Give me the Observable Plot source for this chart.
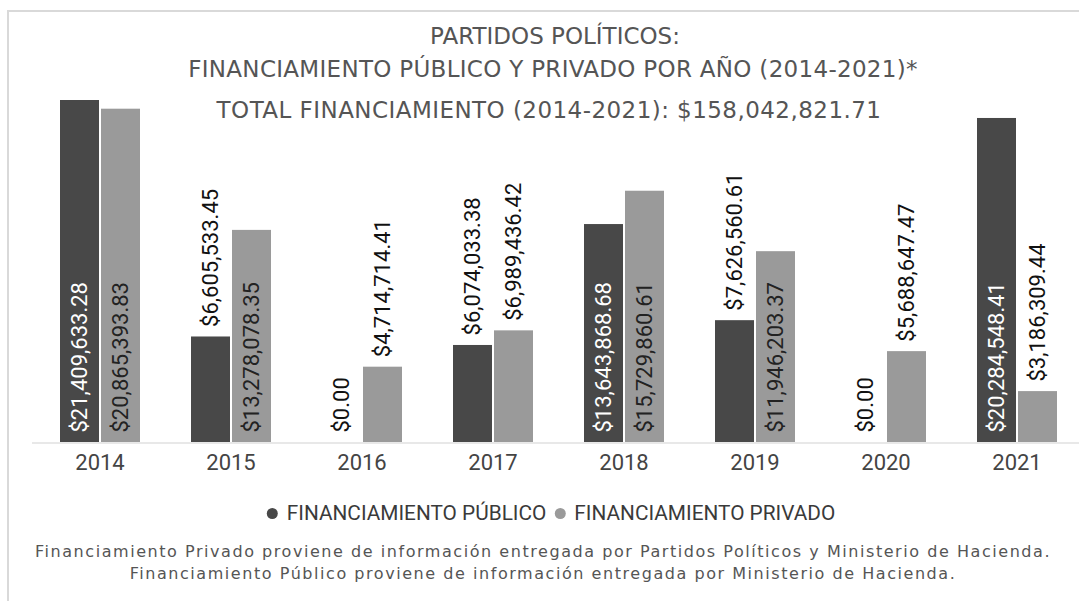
<!DOCTYPE html>
<html>
<head>
<meta charset="utf-8">
<script src="https://cdn.jsdelivr.net/npm/d3@7"></script>
<script src="https://cdn.jsdelivr.net/npm/@observablehq/plot@0.6"></script>
<style>
  html, body { margin: 0; padding: 0; background: #fff; }
  #wrap { position: relative; width: 1079px; height: 601px; overflow: hidden; background: #fff; }
  #frame { position: absolute; left: 7px; top: 10px; width: 1200px; height: 700px;
           border-left: 2px solid #d9d9d9; border-top: 2px solid #d9d9d9; box-sizing: border-box; }
  #chart { position: absolute; left: 0; top: 0; }
  .t { position: absolute; white-space: nowrap; transform: translateX(-50%); line-height: 1; }
  .title { font-family: "DejaVu Sans", sans-serif; font-size: 23px; color: #555555; }
  .legend { font-family: "Roboto", sans-serif; font-size: 20.8px; color: #3a3a3a; display: flex; align-items: center; }
  .legend .dot { display: inline-block; width: 11px; height: 11px; border-radius: 50%; margin-right: 9px; }
  .legend .item { display: flex; align-items: center; margin-right: 8px; }
  .caption { font-family: "DejaVu Sans", sans-serif; font-size: 16px; letter-spacing: 1.55px; color: #555; text-align: center; line-height: 22px; }
  #baseline { position: absolute; height: 2px; background: #e8e8e8; }
</style>
</head>
<body>
<div id="wrap">
  <div id="frame"></div>
  <div id="chart"></div>
</div>
<script>
const years = ["2014", "2015", "2016", "2017", "2018", "2019", "2020", "2021"];
const seriesNames = ["FINANCIAMIENTO PÚBLICO", "FINANCIAMIENTO PRIVADO"];
const publico = [21409633.28, 6605533.45, 0.00, 6074033.38, 13643868.68, 7626560.61, 0.00, 20284548.41];
const privado = [20865393.83, 13278078.35, 4714714.41, 6989436.42, 15729860.61, 11946203.37, 5688647.47, 3186309.44];
const seriesColors = ["#484848", "#9a9a9a"];
const titleLines = ["PARTIDOS POLÍTICOS:", "FINANCIAMIENTO PÚBLICO Y PRIVADO POR AÑO (2014-2021)*"];
const totalLine = "TOTAL FINANCIAMIENTO (2014-2021): $158,042,821.71";
const captionLines = [
  "Financiamiento Privado proviene de información entregada por Partidos Políticos y Ministerio de Hacienda.",
  "Financiamiento Público proviene de información entregada por Ministerio de Hacienda."
];

const data = years.flatMap((year, i) => [
  {year, series: seriesNames[0], value: publico[i]},
  {year, series: seriesNames[1], value: privado[i]}
]);
const fmt = d3.format("$,.2f");
const insideMin = 1e7;
const inside = data.filter(d => d.value >= insideMin);
const outside = data.filter(d => d.value < insideMin);

const labelOpts = {
  fx: "year", x: "series", text: d => fmt(d.value),
  rotate: -90, textAnchor: "start", lineAnchor: "middle",
  fontSize: 22, fontFamily: "Roboto"
};

const marks = [
  Plot.barY(data, {fx: "year", x: "series", y: "value", fill: "series"}),
  Plot.text(inside.filter(d => d.series === seriesNames[0]), {...labelOpts, y: () => 0, dy: -10, fill: "#ffffff"}),
  Plot.text(inside.filter(d => d.series === seriesNames[1]), {...labelOpts, y: () => 0, dy: -10, fill: "#222222"}),
  Plot.text(outside, {...labelOpts, y: "value", dy: -10, fill: "#111111"})
];
if (Plot.axisFx) {
  marks.push(Plot.axisFx({anchor: "bottom", tickSize: 0, tickPadding: 12, fontSize: 22, fontFamily: "Roboto", color: "#444", label: null}));
}

const plot = Plot.plot({
  width: 1079,
  height: 480,
  marginTop: 100,
  marginBottom: 38,
  marginLeft: 57,
  marginRight: 20,
  style: {background: "transparent", fontFamily: "Roboto", color: "#444"},
  fx: {domain: years, paddingInner: 0.38, paddingOuter: 0, label: null, axis: Plot.axisFx ? null : "bottom", tickSize: 0, tickPadding: 12},
  x: {domain: seriesNames, paddingInner: 0.05, paddingOuter: 0, axis: null},
  y: {domain: [0, d3.max(publico)], axis: null},
  color: {domain: seriesNames, range: seriesColors},
  marks
});
document.getElementById("chart").appendChild(plot);

const wrap = document.getElementById("wrap");
const y0 = plot.scale("y").apply(0);
const base = document.createElement("div");
base.id = "baseline";
base.style.left = "32px";
base.style.width = (1079 - 32) + "px";
base.style.top = (y0 - 0.5) + "px";
wrap.insertBefore(base, document.getElementById("chart"));

function addText(cls, text, x, top) {
  const el = document.createElement("div");
  el.className = "t " + cls;
  el.textContent = text;
  el.style.left = x + "px";
  el.style.top = top + "px";
  wrap.appendChild(el);
  return el;
}
addText("title", titleLines[0], 555, 24.5);
const l2 = addText("title", titleLines[1], 553, 57.5);
l2.style.letterSpacing = "0.3px";
const tot = addText("title", totalLine, 549, 98.5);
tot.style.letterSpacing = "0.45px";

const legend = document.createElement("div");
legend.className = "t legend";
legend.style.left = "555px";
legend.style.top = "503px";
seriesNames.forEach((name, i) => {
  const item = document.createElement("span");
  item.className = "item";
  const dot = document.createElement("span");
  dot.className = "dot";
  dot.style.background = seriesColors[i];
  item.appendChild(dot);
  item.appendChild(document.createTextNode(name));
  legend.appendChild(item);
});
wrap.appendChild(legend);

const cap = document.createElement("div");
cap.className = "t caption";
cap.style.left = "543px";
cap.style.top = "541px";
cap.innerHTML = captionLines.map(s => s.replace(/&/g, "&amp;")).join("<br>");
wrap.appendChild(cap);
</script>
</body>
</html>
